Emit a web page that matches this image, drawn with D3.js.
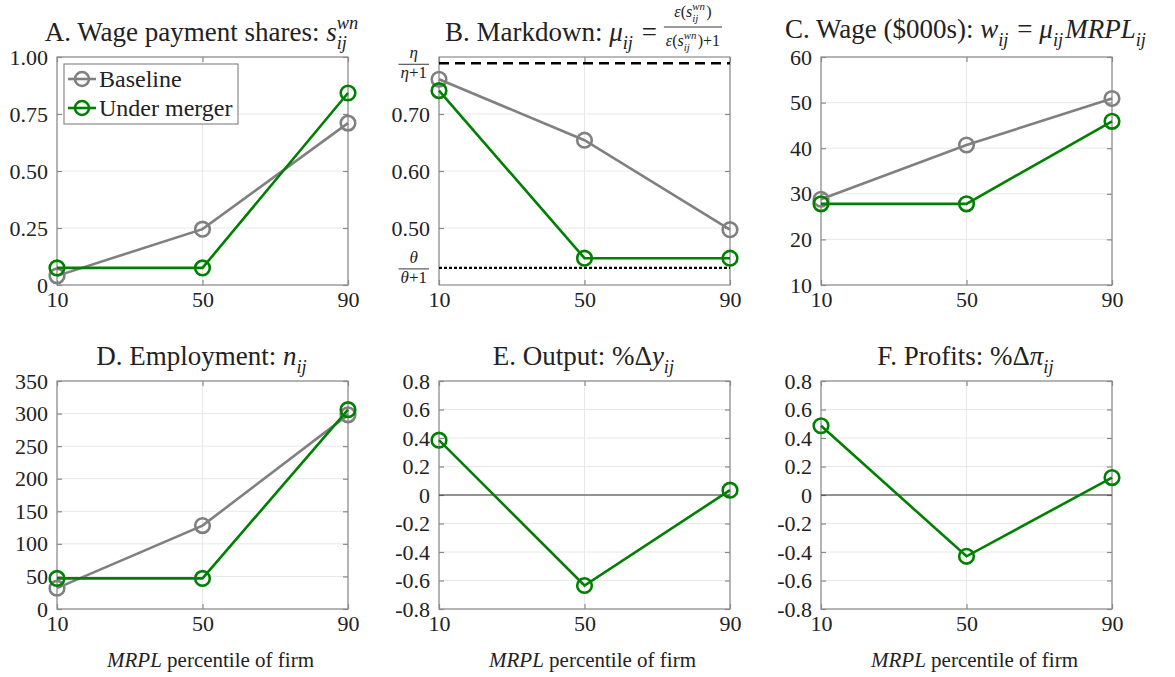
<!DOCTYPE html>
<html><head><meta charset="utf-8">
<script src="https://cdn.jsdelivr.net/npm/d3@7"></script>
<style>body{margin:0;background:#fff} svg text{white-space:pre;font-family:'Liberation Serif','Times New Roman',serif}</style>
</head><body><svg id="c" width="1175" height="677"></svg>
<script>
// ---------------- DATA ----------------
const percentiles = [10, 50, 90];
const xTickLabels = ["10", "50", "90"];

// A. Wage payment shares
const shareBaseline = [0.04, 0.245, 0.71];
const shareMerger = [0.075, 0.075, 0.842];
const shareTicks = [0, 0.25, 0.5, 0.75, 1.0];
const shareTickLabels = ["0", "0.25", "0.50", "0.75", "1.00"];

// B. Markdown
const markdownBaseline = [0.761, 0.654, 0.497];
const markdownMerger = [0.741, 0.447, 0.447];
const markdownTicks = [0.5, 0.6, 0.7];
const markdownTickLabels = ["0.50", "0.60", "0.70"];
const etaLimit = 0.789;   // eta/(eta+1)
const thetaLimit = 0.43;  // theta/(theta+1)

// C. Wage ($000s)
const wageBaseline = [28.8, 40.7, 50.9];
const wageMerger = [27.8, 27.8, 45.9];
const wageTicks = [10, 20, 30, 40, 50, 60];

// D. Employment
const empBaseline = [32, 128, 298];
const empMerger = [47, 47, 306];
const empTicks = [0, 50, 100, 150, 200, 250, 300, 350];

// E. Output and F. Profits (% change, under merger)
const outputMerger = [0.385, -0.635, 0.034];
const profitMerger = [0.486, -0.43, 0.122];
const pctTicks = [-0.8, -0.6, -0.4, -0.2, 0, 0.2, 0.4, 0.6, 0.8];
const pctTickLabels = ["-0.8", "-0.6", "-0.4", "-0.2", "0", "0.2", "0.4", "0.6", "0.8"];

const seriesNames = ["Baseline", "Under merger"];
const colors = {base: "#808080", merger: "#008000"};

// ---------------- LAYOUT ----------------
const FONT = "'Liberation Serif','Times New Roman',serif";
const colLeft = [57, 439, 821];
const rowTop = [57, 381];
const W = 291, H = 228;
const TICK = 22, TITLE = 27, XLAB = 21;

const svg = d3.select("#c").attr("font-family", FONT);

function renderMath(g, pieces, size) {
  let x = 0;
  pieces.forEach(p => {
    if (p.frac) {
      const fs = p.frac.size;
      const ng = g.append("g"), dg = g.append("g");
      const nw = renderMath(ng, p.frac.num, fs);
      const dw = renderMath(dg, p.frac.den, fs);
      const w = Math.max(nw, dw) + 4;
      ng.attr("transform", `translate(${x + (w - nw) / 2},${p.frac.numY})`);
      dg.attr("transform", `translate(${x + (w - dw) / 2},${p.frac.denY})`);
      g.append("line").attr("x1", x).attr("x2", x + w)
        .attr("y1", p.frac.barY).attr("y2", p.frac.barY)
        .attr("stroke", "#222").attr("stroke-width", 0.9);
      x += w + 2;
    } else if (p.sub !== undefined || p.sup !== undefined) {
      const ss = size * 0.68;
      let w = 0;
      if (p.sup) {
        const t = g.append("text").attr("x", x).attr("y", -size * 0.46)
          .attr("font-size", ss).attr("font-style", "italic").attr("fill", "#222").text(p.sup);
        w = Math.max(w, t.node().getComputedTextLength());
      }
      if (p.sub) {
        const t = g.append("text").attr("x", x).attr("y", size * 0.3)
          .attr("font-size", ss).attr("font-style", "italic").attr("fill", "#222").text(p.sub);
        w = Math.max(w, t.node().getComputedTextLength());
      }
      x += w + size * 0.08;
    } else {
      const t = g.append("text").attr("x", x).attr("y", 0)
        .attr("font-size", size).attr("font-style", p.it ? "italic" : "normal")
        .attr("fill", "#222").text(p.t);
      x += t.node().getComputedTextLength();
    }
  });
  return x;
}
function centeredMath(parent, cx, y, pieces, size) {
  const g = parent.append("g");
  const w = renderMath(g, pieces, size);
  g.attr("transform", `translate(${cx - w / 2},${y})`);
  return g;
}

const sij = [{t: "s", it: true}, {sub: "ij", sup: "wn"}];
const epsS = [{t: "ε", it: true}, {t: "("}, ...sij, {t: ")"}];

const panels = [
  {col: 0, row: 0, domain: [0, 1], ticks: shareTicks, tickLabels: shareTickLabels,
   series: [{v: shareBaseline, c: colors.base}, {v: shareMerger, c: colors.merger}],
   title: [{t: "A. Wage payment shares: "}, ...sij], legend: true},
  {col: 1, row: 0, domain: [0.4, 0.8], ticks: markdownTicks, tickLabels: markdownTickLabels,
   series: [{v: markdownBaseline, c: colors.base}, {v: markdownMerger, c: colors.merger}],
   title: [{t: "B. Markdown: "}, {t: "μ", it: true}, {sub: "ij"}, {t: " = "},
           {frac: {num: epsS, den: [...epsS, {t: "+1"}], size: 16, numY: -24, denY: 5, barY: -14}}],
   refs: true},
  {col: 2, row: 0, domain: [10, 60], ticks: wageTicks, titleShift: -3,
   series: [{v: wageBaseline, c: colors.base}, {v: wageMerger, c: colors.merger}],
   title: [{t: "C. Wage ($000s): "}, {t: "w", it: true}, {sub: "ij"}, {t: " = "},
           {t: "μ", it: true}, {sub: "ij"}, {t: "MRPL", it: true}, {sub: "ij"}]},
  {col: 0, row: 1, domain: [0, 350], ticks: empTicks,
   series: [{v: empBaseline, c: colors.base}, {v: empMerger, c: colors.merger}],
   title: [{t: "D. Employment: "}, {t: "n", it: true}, {sub: "ij"}]},
  {col: 1, row: 1, domain: [-0.8, 0.8], ticks: pctTicks, tickLabels: pctTickLabels, zero: true,
   series: [{v: outputMerger, c: colors.merger}],
   title: [{t: "E. Output: "}, {t: "%Δ"}, {t: "y", it: true}, {sub: "ij"}]},
  {col: 2, row: 1, domain: [-0.8, 0.8], ticks: pctTicks, tickLabels: pctTickLabels, zero: true,
   series: [{v: profitMerger, c: colors.merger}],
   title: [{t: "F. Profits: "}, {t: "%Δ"}, {t: "π", it: true}, {sub: "ij"}]}
];

panels.forEach(p => {
  const x0 = colLeft[p.col], y0 = rowTop[p.row];
  const g = svg.append("g").attr("transform", `translate(${x0},${y0})`);
  const x = d3.scaleLinear().domain([10, 90]).range([0, W]);
  const y = d3.scaleLinear().domain(p.domain).range([H, 0]);

  // grid
  g.append("g").selectAll("line").data(p.ticks).join("line")
    .attr("x1", 0).attr("x2", W).attr("y1", d => y(d)).attr("y2", d => y(d))
    .attr("stroke", "#e8e8e8").attr("stroke-width", 1);
  g.append("g").selectAll("line").data(percentiles).join("line")
    .attr("x1", d => x(d)).attr("x2", d => x(d)).attr("y1", 0).attr("y2", H)
    .attr("stroke", "#e8e8e8").attr("stroke-width", 1);

  const lab = (i, d) => p.tickLabels ? p.tickLabels[i] : String(d);
  const yl = d3.axisLeft(y).tickValues(p.ticks).tickSize(-5).tickPadding(9)
    .tickFormat((d, i) => lab(i, d));
  const yr = d3.axisRight(y).tickValues(p.ticks).tickSize(-5).tickFormat("");
  const xb = d3.axisBottom(x).tickValues(percentiles).tickSize(-5).tickPadding(6)
    .tickFormat((d, i) => xTickLabels[i]);
  const xt = d3.axisTop(x).tickValues(percentiles).tickSize(-5).tickFormat("");
  const styleAx = a => {
    a.attr("font-family", FONT).attr("font-size", TICK);
    a.selectAll("path,line").attr("stroke", "#8a8a8a").attr("stroke-width", 1.2);
    a.select(".domain").attr("d", null);
    a.selectAll("text").attr("font-size", TICK).attr("fill", "#222").attr("font-family", FONT);
  };
  g.append("g").call(yl).call(styleAx);
  g.append("g").attr("transform", `translate(${W},0)`).call(yr).call(styleAx);
  const axb = g.append("g").attr("transform", `translate(0,${H})`).call(xb).call(styleAx);
  g.append("g").call(xt).call(styleAx);
  axb.selectAll("text").attr("dy", "0.71em");
  g.append("rect").attr("width", W).attr("height", H).attr("fill", "none")
    .attr("stroke", "#8a8a8a").attr("stroke-width", 1.2);

  if (p.zero) {
    g.append("line").attr("x1", 0).attr("x2", W).attr("y1", y(0)).attr("y2", y(0))
      .attr("stroke", "#333").attr("stroke-width", 1.1);
  }
  if (p.refs) {
    g.append("line").attr("x1", 0).attr("x2", W).attr("y1", y(etaLimit)).attr("y2", y(etaLimit))
      .attr("stroke", "#000").attr("stroke-width", 2.6).attr("stroke-dasharray", "10,6");
    g.append("line").attr("x1", 0).attr("x2", W).attr("y1", y(thetaLimit)).attr("y2", y(thetaLimit))
      .attr("stroke", "#000").attr("stroke-width", 2.4).attr("stroke-dasharray", "3,2");
    const fr = (sym) => [{frac: {num: [{t: sym, it: true}], den: [{t: sym, it: true}, {t: "+1"}],
                                 size: 17, numY: -5, denY: 15, barY: 1}}];
    [[etaLimit, "η"], [thetaLimit, "θ"]].forEach(([v, s]) => {
      const fg = g.append("g");
      const w = renderMath(fg, fr(s), 17);
      fg.attr("transform", `translate(${-8 - w},${y(v)})`);
    });
  }

  // series
  const line = d3.line().x((d, i) => x(percentiles[i])).y(d => y(d));
  p.series.forEach(s => {
    g.append("path").datum(s.v).attr("d", line).attr("fill", "none")
      .attr("stroke", s.c).attr("stroke-width", 2.6);
    g.append("g").selectAll("circle").data(s.v).join("circle")
      .attr("cx", (d, i) => x(percentiles[i])).attr("cy", d => y(d)).attr("r", 7.3)
      .attr("fill", "none").attr("stroke", s.c).attr("stroke-width", 2.6);
  });

  // title
  centeredMath(svg, x0 + W / 2, y0 - 16 + (p.titleShift || 0), p.title, TITLE);

  // x label
  if (p.row === 1) {
    centeredMath(svg, x0 + W / 2 + 8, 667, [{t: "MRPL", it: true}, {t: " percentile of firm"}], XLAB);
  }

  // legend
  if (p.legend) {
    const lg = g.append("g").attr("transform", "translate(7,7)");
    lg.append("rect").attr("width", 174).attr("height", 60).attr("fill", "#fff")
      .attr("stroke", "#8a8a8a").attr("stroke-width", 1.2);
    [colors.base, colors.merger].forEach((c, i) => {
      const yy = 15 + i * 29;
      lg.append("line").attr("x1", 4).attr("x2", 32).attr("y1", yy).attr("y2", yy)
        .attr("stroke", c).attr("stroke-width", 2.6);
      lg.append("circle").attr("cx", 18).attr("cy", yy).attr("r", 7).attr("fill", "none")
        .attr("stroke", c).attr("stroke-width", 2.6);
      lg.append("text").attr("x", 35).attr("y", yy).attr("dy", "0.33em")
        .attr("font-size", 24).attr("fill", "#222").text(seriesNames[i]);
    });
  }
});
</script></body></html>
